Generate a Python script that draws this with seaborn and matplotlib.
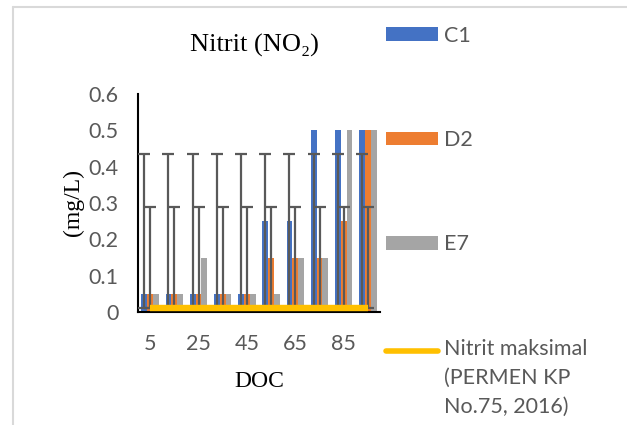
import numpy as np
import pandas as pd
import matplotlib
matplotlib.use("Agg")
import matplotlib.pyplot as plt
from matplotlib.lines import Line2D
from matplotlib.patches import Patch
import seaborn as sns

doc = [5, 15, 25, 35, 45, 55, 65, 75, 85, 95]
tick_labels = ["5", "", "25", "", "45", "", "65", "", "85", ""]
c1 = [0.05, 0.05, 0.05, 0.05, 0.05, 0.25, 0.25, 0.5, 0.5, 0.5]
d2 = [0.05, 0.05, 0.05, 0.05, 0.05, 0.15, 0.15, 0.15, 0.25, 0.5]
e7 = [0.05, 0.05, 0.15, 0.05, 0.05, 0.05, 0.15, 0.15, 0.5, 0.5]
nitrit_max = [0.01] * 10
err_base = [0.01] * 10
err_top_c1 = [0.435] * 10
err_top_d2 = [0.29] * 10

series = ["C1", "D2", "E7"]
colors = ["#4472C4", "#ED7D31", "#A5A5A5"]
yellow = "#FFC000"
txt_gray = "#595959"

df = pd.DataFrame({
    "DOC": [str(d) for d in doc] * 3,
    "value": c1 + d2 + e7,
    "series": ["C1"] * 10 + ["D2"] * 10 + ["E7"] * 10,
})

sns.set_theme(style="white")
plt.rcParams["font.family"] = ["Lato", "DejaVu Sans"]

fig = plt.figure(figsize=(6.27, 4.25), dpi=100)
ax = fig.add_axes([138 / 627, 1 - 312 / 425, 242 / 627, (312 - 94) / 425])

sns.barplot(data=df, x="DOC", y="value", hue="series", palette=colors,
            width=0.72, ax=ax, legend=False, saturation=1, linewidth=0)

# error bars anchored at the bar centres of C1 and D2
x_c1 = [p.get_x() + p.get_width() / 2 for p in ax.containers[0]]
x_d2 = [p.get_x() + p.get_width() / 2 for p in ax.containers[1]]
base = np.array(err_base)
ax.errorbar(x_c1, base, yerr=[np.zeros(10), np.array(err_top_c1) - base],
            fmt="none", ecolor="#595959", elinewidth=1.6, capsize=4.4,
            capthick=1.6, zorder=4)
ax.errorbar(x_d2, base, yerr=[np.zeros(10), np.array(err_top_d2) - base],
            fmt="none", ecolor="#595959", elinewidth=1.6, capsize=4.4,
            capthick=1.6, zorder=4)

ax.plot(np.arange(len(doc)), nitrit_max, color=yellow, lw=4.6,
        solid_capstyle="butt", zorder=5)

ax.set_xlim(-0.5, 9.5)
ax.set_ylim(0, 0.6)
ax.set_yticks([0, 0.1, 0.2, 0.3, 0.4, 0.5, 0.6])
ax.set_yticklabels(["0", "0.1", "0.2", "0.3", "0.4", "0.5", "0.6"])
ax.set_xticks(np.arange(len(doc)))
ax.set_xticklabels(tick_labels)
ax.tick_params(axis="both", length=0, labelsize=15.5, colors=txt_gray)
ax.tick_params(axis="y", pad=14)
ax.tick_params(axis="x", pad=16)
for s in ["top", "right"]:
    ax.spines[s].set_visible(False)
for s in ["left", "bottom"]:
    ax.spines[s].set_color("black")
    ax.spines[s].set_linewidth(1.5)

serif = ["Liberation Serif", "DejaVu Serif"]
ax.set_xlabel("DOC", family=serif, fontsize=17, color="black", labelpad=12)
ax.set_ylabel("(mg/L)", family=serif, fontsize=17, color="black", labelpad=3)
fig.text(254 / 627, 1 - 45 / 425, "Nitrit (NO\u2082)", family=serif,
         fontsize=19, ha="center", va="center", color="black")

handles = [Patch(facecolor=c, edgecolor="none") for c in colors]
handles.append(Line2D([0], [0], color=yellow, lw=4))
labels = series + ["Nitrit maksimal\n(PERMEN KP\nNo.75, 2016)"]
leg = fig.legend(handles, labels, loc="upper left",
                 bbox_to_anchor=(377 / 627, 1 - 17 / 425),
                 frameon=False, fontsize=15.5, labelspacing=3.92,
                 handlelength=2.45, handleheight=0.6, handletextpad=0.25,
                 borderaxespad=0)
for t in leg.get_texts():
    t.set_color(txt_gray)
    t.set_linespacing(1.55)

# raise the line handle to the first text line of its label
fig.canvas.draw()
h = leg.legend_handles[3]
yd = np.asarray(h.get_ydata(), dtype=float)
h.set_ydata(yd + 19.5)

# light frame of the chart area
fig.add_artist(Line2D([13 / 627, 1], [1 - 7 / 425, 1 - 7 / 425],
                      transform=fig.transFigure, color="#D9D9D9", lw=1.5))
fig.add_artist(Line2D([13 / 627, 13 / 627], [0, 1 - 7 / 425],
                      transform=fig.transFigure, color="#D9D9D9", lw=1.5))

fig.savefig("out.png", dpi=100)
